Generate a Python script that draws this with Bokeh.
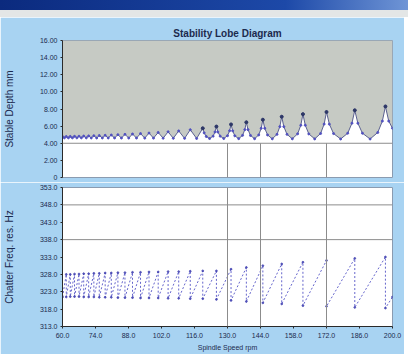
from bokeh.plotting import figure
from bokeh.models import Range1d, Span, Div
from bokeh.layouts import column
from bokeh.embed import file_html
from bokeh.resources import INLINE

# ---------------- data ----------------
speed_ticks = [60, 74, 88, 102, 116, 130, 144, 158, 172, 186, 200]
depth_ticks = [0, 2, 4, 6, 8, 10, 12, 14, 16]
freq_ticks = [313, 318, 323, 328, 333, 338, 343, 348, 353]

# stability lobe boundary (spindle speed, stable depth)
lobe_speed = [60.0, 60.8, 61.6, 62.5, 63.3, 64.2, 65.1, 66.1, 67.0, 68.0,
              69.0, 70.1, 71.1, 72.2, 73.3, 74.5, 75.6, 76.9, 78.1, 79.4,
              80.7, 82.1, 83.5, 85.0, 86.5, 88.1, 89.7, 91.4, 93.1, 94.9,
              96.7, 98.6, 100.6, 102.7, 104.8, 107.0, 109.3, 111.8, 114.2, 116.9,
              119.5,
              120.1, 121.0, 122.4, 123.9, 124.7, 125.3,
              125.9, 126.9, 128.4, 130.0, 130.9, 131.5,
              132.2, 133.1, 134.75, 136.4, 137.35, 138.0,
              138.7, 139.75, 141.5, 143.25, 144.3, 145.0,
              145.8, 147.0, 149.0, 151.0, 152.2, 153.0,
              153.9, 155.25, 157.5, 159.75, 161.1, 162.0,
              163.0, 164.5, 167.0, 169.5, 171.0, 172.0,
              173.2, 175.0, 178.0, 181.0, 182.8, 184.0,
              185.3, 187.25, 190.5, 193.75, 195.7, 197.0,
              198.4, 200.0]
lobe_depth = [4.78, 4.63, 4.79, 4.63, 4.80, 4.63, 4.81, 4.63, 4.82, 4.63,
              4.84, 4.63, 4.86, 4.62, 4.88, 4.62, 4.90, 4.62, 4.93, 4.62,
              4.96, 4.62, 5.00, 4.61, 5.04, 4.61, 5.08, 4.61, 5.13, 4.60,
              5.19, 4.60, 5.26, 4.59, 5.34, 4.58, 5.44, 4.57, 5.58, 4.56,
              5.75,
              5.21, 4.79, 4.55, 4.83, 5.32, 5.95,
              5.32, 4.83, 4.55, 4.88, 5.46, 6.20,
              5.45, 4.87, 4.54, 4.92, 5.59, 6.45,
              5.59, 4.91, 4.53, 4.97, 5.75, 6.75,
              5.75, 4.97, 4.52, 5.04, 5.94, 7.10,
              5.94, 5.04, 4.52, 5.10, 6.10, 7.40,
              6.10, 5.09, 4.51, 5.14, 6.24, 7.65,
              6.23, 5.13, 4.50, 5.17, 6.34, 7.85,
              6.34, 5.17, 4.50, 5.26, 6.59, 8.30,
              6.59, 5.75]

# lobe cusps (peaks) on the high-speed side
peak_speed = [119.5, 125.3, 131.5, 138.0, 145.0, 153.0, 162.0, 172.0, 184.0, 197.0]
peak_depth = [5.75, 5.95, 6.20, 6.45, 6.75, 7.10, 7.40, 7.65, 7.85, 8.30]

# chatter frequency along the lobes
freq_speed = [60.0, 61.6, 61.6, 63.3, 63.3, 65.1, 65.1, 67.0, 67.0, 69.0,
              69.0, 71.1, 71.1, 73.3, 73.3, 75.6, 75.6, 78.1, 78.1, 80.7,
              80.7, 83.5, 83.5, 86.5, 86.5, 89.7, 89.7, 93.1, 93.1, 96.7,
              96.7, 100.6, 100.6, 104.8, 104.8, 109.3, 109.3, 114.2, 114.2, 119.5,
              119.5, 125.3, 125.3, 131.5, 131.5, 138.0, 138.0, 145.0, 145.0, 153.0,
              153.0, 162.0, 162.0, 172.0, 172.0, 184.0, 184.0, 197.0, 197.0, 200.0]
freq_hz = [321.5, 328.0, 321.5, 328.0, 321.6, 328.1, 321.6, 328.1, 321.6, 328.2,
           321.5, 328.2, 321.5, 328.3, 321.5, 328.3, 321.4, 328.4, 321.4, 328.4,
           321.4, 328.5, 321.3, 328.5, 321.3, 328.6, 321.3, 328.6, 321.2, 328.7,
           321.2, 328.7, 321.2, 328.8, 321.1, 328.8, 321.1, 328.9, 321.0, 329.0,
           321.0, 329.0, 320.8, 329.5, 320.5, 330.0, 320.2, 330.5, 319.8, 331.0,
           319.5, 331.5, 319.0, 332.0, 318.8, 332.6, 318.5, 333.0, 318.3, 321.5]

marked_speed = [130, 144, 172]
depth_limit = 4.0
freq_guides = [348, 338]

# ---------------- style ----------------
BG = "#a8d3f2"
TXT = "#1c2a4e"
FONT = "Liberation Sans"

x_range = Range1d(60, 200)


def style_axes(p):
    p.grid.visible = False
    for ax in p.axis:
        ax.major_label_text_font = FONT
        ax.major_label_text_font_size = "7px"
        ax.major_label_text_color = TXT
        ax.axis_label_text_font = FONT
        ax.axis_label_text_font_size = "7px"
        ax.axis_label_text_font_style = "normal"
        ax.axis_label_text_color = TXT
        ax.axis_line_color = "#2a2a2a"
        ax.major_tick_line_color = "#2a2a2a"
        ax.major_tick_out = 2
        ax.major_tick_in = 0
        ax.minor_tick_line_color = None
        ax.major_label_standoff = 3


# window title bar and menu strip
bar1 = Div(text="", width=408, height=10, margin=(0, 0, 0, 0),
           styles={"background": "linear-gradient(to right, #0b2a7e, #1d49a8 70%, #6f95d6)"})
bar2 = Div(text="", width=408, height=7, margin=(0, 0, 0, 0),
           styles={"background-color": "#e3e6e6"})

# ---------- top: stability lobes ----------
p1 = figure(frame_width=330, frame_height=137, x_range=x_range, y_range=Range1d(0, 16),
            output_backend="svg", toolbar_location=None,
            min_border_left=62, min_border_right=12, min_border_top=23,
            min_border_bottom=5, background_fill_color="white",
            border_fill_color=BG, outline_line_color="#8a9bb0")
p1.title.text = "Stability Lobe Diagram"
p1.title.align = "center"
p1.title.text_font = FONT
p1.title.text_font_size = "10px"
p1.title.text_font_style = "bold"
p1.title.text_color = TXT
p1.title.standoff = 3
p1.title.offset = 0

p1.varea(x=lobe_speed, y1=lobe_depth, y2=16, fill_color="#c6cac4")
p1.add_layout(Span(location=depth_limit, dimension="width",
                   line_color="#8c8c8c", line_width=1))
p1.segment(x0=marked_speed, y0=0, x1=marked_speed, y1=depth_limit,
           line_color="#8c8c8c", line_width=1)
p1.line(lobe_speed, lobe_depth, line_color="#5a6090", line_width=1)
p1.scatter(lobe_speed, lobe_depth, size=2, color="#5050c0")
p1.scatter(peak_speed, peak_depth, size=3, color="#2e3866")

p1.xaxis.visible = False
style_axes(p1)
p1.yaxis.ticker = depth_ticks
p1.yaxis.major_label_overrides = {t: ("0" if t == 0 else "%.2f" % t) for t in depth_ticks}
p1.yaxis.axis_label = "Stable Depth mm"
p1.yaxis.axis_label_text_font_size = "10px"
p1.yaxis.axis_label_standoff = 22

# ---------- bottom: chatter frequency ----------
p2 = figure(frame_width=330, frame_height=139, x_range=x_range, y_range=Range1d(313, 353),
            output_backend="svg", toolbar_location=None,
            min_border_left=62, min_border_right=12, min_border_top=5,
            min_border_bottom=28, background_fill_color="white",
            border_fill_color=BG, outline_line_color="#8a9bb0")
for g in freq_guides:
    p2.add_layout(Span(location=g, dimension="width", line_color="#8c8c8c", line_width=1))
for s in marked_speed:
    p2.add_layout(Span(location=s, dimension="height", line_color="#8c8c8c", line_width=1))
p2.line(freq_speed, freq_hz, line_color="#6666cc", line_width=1, line_dash="2 2")
p2.scatter(freq_speed, freq_hz, size=1.8, color="#4040b0", alpha=0.8)

style_axes(p2)
p2.yaxis.ticker = freq_ticks
p2.yaxis.major_label_overrides = {t: "%.1f" % t for t in freq_ticks}
p2.yaxis.axis_label = "Chatter Freq. res. Hz"
p2.yaxis.axis_label_text_font_size = "10px"
p2.yaxis.axis_label_standoff = 22
p2.xaxis.ticker = speed_ticks
p2.xaxis.major_label_overrides = {t: "%.1f" % t for t in speed_ticks}
p2.xaxis.axis_label = "Spindle Speed rpm"
p2.xaxis.axis_label_standoff = 3
p2.xaxis.major_label_standoff = 4

layout = column(bar1, bar2, p1, p2, spacing=0)
open("out.html", "w").write(file_html(layout, INLINE))
